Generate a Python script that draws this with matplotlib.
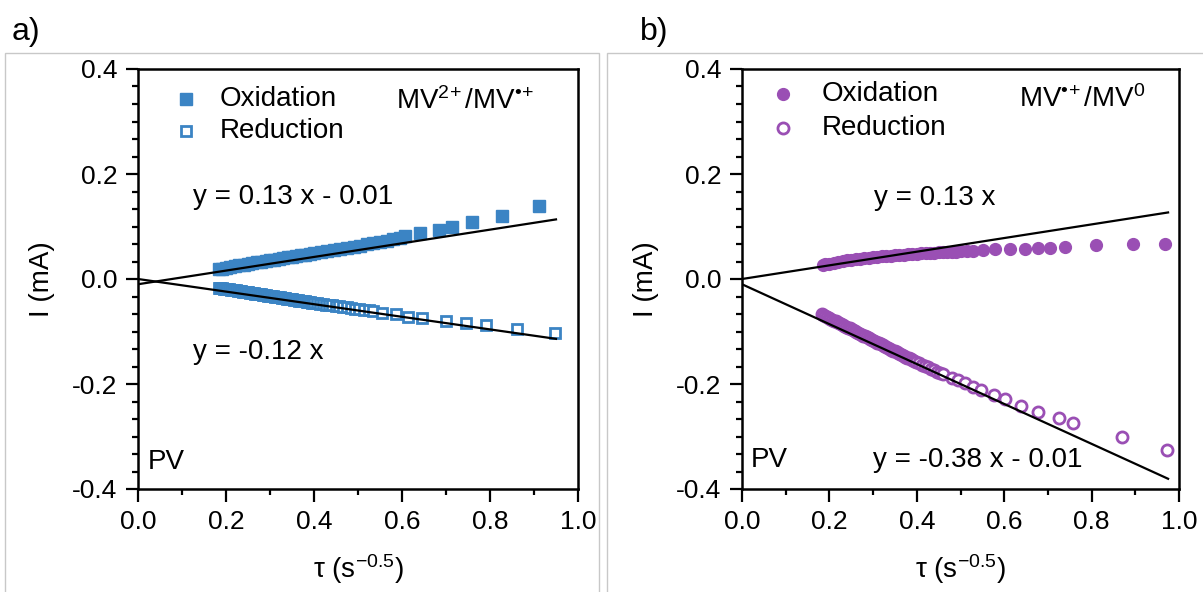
import matplotlib
matplotlib.use("Agg")
import matplotlib.pyplot as plt
from matplotlib.ticker import MultipleLocator
from matplotlib.patches import Rectangle

plt.rcParams["font.family"] = ["Liberation Sans", "DejaVu Sans"]
plt.rcParams["mathtext.fontset"] = "custom"
plt.rcParams["mathtext.rm"] = "Liberation Sans"
plt.rcParams["mathtext.it"] = "Liberation Sans:italic"
plt.rcParams["mathtext.bf"] = "Liberation Sans:bold"

# ---------------- data ----------------
# (a) MV2+/MV•+ couple
tau_a_ox = [0.183, 0.19, 0.20, 0.21, 0.22, 0.23, 0.24, 0.25, 0.26, 0.27, 0.28, 0.29,
            0.30, 0.31, 0.32, 0.33, 0.34, 0.35, 0.36, 0.37, 0.38, 0.39, 0.40, 0.415,
            0.43, 0.445, 0.46, 0.475, 0.49, 0.505, 0.52, 0.535, 0.55, 0.565, 0.58,
            0.595, 0.607, 0.641, 0.683, 0.713, 0.758, 0.827, 0.912]
i_a_ox = [0.019, 0.020, 0.0215, 0.023, 0.0245, 0.026, 0.0275, 0.029, 0.030, 0.0315,
          0.033, 0.034, 0.0355, 0.037, 0.038, 0.0395, 0.041, 0.042, 0.0435, 0.045,
          0.046, 0.0475, 0.049, 0.051, 0.053, 0.055, 0.057, 0.059, 0.061, 0.0635,
          0.066, 0.068, 0.0705, 0.073, 0.0765, 0.079, 0.082, 0.088, 0.093, 0.0997,
          0.1086, 0.120, 0.139]

tau_a_red = [0.183, 0.187, 0.191, 0.195, 0.199, 0.203, 0.207, 0.211, 0.215, 0.219,
             0.223, 0.227, 0.231, 0.235, 0.239, 0.243, 0.247, 0.251, 0.255, 0.259,
             0.263, 0.267, 0.271, 0.275, 0.279, 0.283, 0.287, 0.291, 0.295, 0.299,
             0.303, 0.307, 0.311, 0.315, 0.319, 0.323, 0.327, 0.331, 0.335, 0.339,
             0.343, 0.347, 0.351, 0.355, 0.359, 0.363, 0.367, 0.371, 0.375, 0.379,
             0.383, 0.387, 0.391, 0.395, 0.399, 0.406, 0.413, 0.420, 0.427, 0.434,
             0.441, 0.449, 0.457, 0.465, 0.474, 0.483, 0.493, 0.503, 0.513, 0.524,
             0.535, 0.555, 0.586, 0.613, 0.646, 0.701, 0.745, 0.792, 0.861, 0.948]
i_a_red = [-0.0165, -0.0171, -0.0176, -0.0181, -0.0187, -0.0192, -0.0197, -0.0203,
           -0.0208, -0.0213, -0.0219, -0.0224, -0.0229, -0.0235, -0.0240, -0.0245,
           -0.0251, -0.0256, -0.0261, -0.0267, -0.0272, -0.0277, -0.0283, -0.0288,
           -0.0293, -0.0299, -0.0304, -0.0309, -0.0315, -0.0320, -0.0325, -0.0331,
           -0.0336, -0.0341, -0.0347, -0.0352, -0.0357, -0.0363, -0.0368, -0.0373,
           -0.0379, -0.0384, -0.0389, -0.0395, -0.0400, -0.0405, -0.0411, -0.0416,
           -0.0421, -0.0427, -0.0432, -0.0437, -0.0443, -0.0448, -0.0453, -0.0461,
           -0.0469, -0.0478, -0.0486, -0.0494, -0.0502, -0.0512, -0.0521, -0.0530,
           -0.0541, -0.0551, -0.0563, -0.0575, -0.0587, -0.0599, -0.061, -0.064,
           -0.067, -0.0718, -0.075, -0.080, -0.083, -0.0876, -0.096, -0.102]

# (b) MV•+/MV0 couple
tau_b_ox = [0.186, 0.19, 0.20, 0.21, 0.22, 0.23, 0.24, 0.25, 0.26, 0.27, 0.28, 0.29,
            0.30, 0.31, 0.32, 0.33, 0.34, 0.35, 0.36, 0.37, 0.38, 0.39, 0.40, 0.41,
            0.42, 0.43, 0.44, 0.45, 0.46, 0.47, 0.48, 0.49, 0.50, 0.515, 0.529, 0.552,
            0.579, 0.613, 0.648, 0.677, 0.705, 0.738, 0.809, 0.895, 0.968]
i_b_ox = [0.027, 0.0278, 0.0295, 0.031, 0.0325, 0.034, 0.0353, 0.0365, 0.0377, 0.0388,
          0.0398, 0.0408, 0.0417, 0.0425, 0.0433, 0.044, 0.0447, 0.0454, 0.046, 0.0466,
          0.0472, 0.0477, 0.0482, 0.0487, 0.0492, 0.0496, 0.050, 0.0505, 0.051, 0.0514,
          0.0518, 0.0522, 0.0526, 0.053, 0.053, 0.0546, 0.0565, 0.0565, 0.0578, 0.0584,
          0.0597, 0.061, 0.064, 0.066, 0.066]

tau_b_red = [0.182, 0.186, 0.190, 0.194, 0.198, 0.202, 0.206, 0.210, 0.214, 0.218,
             0.222, 0.226, 0.230, 0.234, 0.238, 0.242, 0.246, 0.250, 0.254, 0.258,
             0.262, 0.266, 0.270, 0.274, 0.278, 0.282, 0.286, 0.290, 0.294, 0.298,
             0.302, 0.306, 0.310, 0.314, 0.318, 0.322, 0.326, 0.330, 0.334, 0.338,
             0.342, 0.346, 0.350, 0.354, 0.358, 0.362, 0.366, 0.370, 0.374, 0.378,
             0.382, 0.386, 0.390, 0.394, 0.398, 0.405, 0.412, 0.419, 0.426, 0.433,
             0.440, 0.447, 0.454, 0.461, 0.480, 0.495, 0.510, 0.529, 0.546, 0.576,
             0.601, 0.638, 0.678, 0.725, 0.757, 0.870, 0.973]
i_b_red = [-0.0673, -0.0690, -0.0707, -0.0724, -0.0740, -0.0757, -0.0774, -0.0791,
           -0.0808, -0.0825, -0.0841, -0.0858, -0.0875, -0.0892, -0.0909, -0.0925,
           -0.0942, -0.0959, -0.0976, -0.0993, -0.1009, -0.1026, -0.1043, -0.1060,
           -0.1077, -0.1093, -0.1110, -0.1127, -0.1144, -0.1161, -0.1177, -0.1194,
           -0.1211, -0.1228, -0.1245, -0.1261, -0.1278, -0.1295, -0.1312, -0.1329,
           -0.1345, -0.1362, -0.1379, -0.1396, -0.1413, -0.1429, -0.1446, -0.1463,
           -0.1480, -0.1497, -0.1513, -0.1530, -0.1547, -0.1564, -0.1581, -0.1607,
           -0.1633, -0.1659, -0.1685, -0.1711, -0.1737, -0.1763, -0.1790, -0.1816,
           -0.188, -0.193, -0.1975, -0.206, -0.2114, -0.220, -0.229, -0.241, -0.253,
           -0.264, -0.274, -0.301, -0.326]

# linear fits: (slope, intercept, x_end)
fit_a_ox = (0.13, -0.01, 0.95)
fit_a_red = (-0.12, 0.0, 0.95)
fit_b_ox = (0.13, 0.0, 0.975)
fit_b_red = (-0.38, -0.01, 0.975)

x_ticks = [0.0, 0.2, 0.4, 0.6, 0.8, 1.0]
y_ticks = [-0.4, -0.2, 0.0, 0.2, 0.4]

BLUE = "#3B84C4"
PURPLE = "#9A4FB4"
FS = 20
TFS = 19

W, H = 1203, 592
fig = plt.figure(figsize=(W / 100, H / 100), dpi=100)

# light panel frames
for x0, x1 in [(5, 599), (607, 1210)]:
    fig.add_artist(Rectangle((x0 / W, -0.01), (x1 - x0) / W, 1.01 - 53 / H,
                             transform=fig.transFigure, fill=False,
                             edgecolor="#c8c8c8", linewidth=1.0))

axA = fig.add_axes([138 / W, 1 - 489 / H, 440 / W, 420 / H])
axB = fig.add_axes([742 / W, 1 - 489 / H, 437 / W, 420 / H])


def style(ax):
    ax.set_xlim(0, 1.0)
    ax.set_ylim(-0.4, 0.4)
    ax.set_xticks(x_ticks)
    ax.set_yticks(y_ticks)
    ax.set_xticklabels([f"{v:.1f}" for v in x_ticks])
    ax.set_yticklabels([f"{v:.1f}" for v in y_ticks])
    ax.xaxis.set_minor_locator(MultipleLocator(0.1))
    ax.yaxis.set_minor_locator(MultipleLocator(0.2 / 6))
    ax.tick_params(which="both", direction="out", top=False, right=False,
                   labelsize=TFS, width=1.6, colors="black")
    ax.tick_params(which="major", length=9, pad=6)
    ax.tick_params(which="minor", length=4)
    for s in ax.spines.values():
        s.set_linewidth(1.8)
    ax.set_xlabel(r"τ (s$^{-0.5}$)", fontsize=FS, labelpad=13)
    ax.set_ylabel("I (mA)", fontsize=FS, labelpad=12)


def fit_line(ax, fit):
    m, b, xe = fit
    ax.plot([0, xe], [b, m * xe + b], color="black", lw=1.6, zorder=5)


# ---- panel (a) ----
axA.plot(tau_a_ox, i_a_ox, "s", ms=8, color=BLUE, mec=BLUE, zorder=3)
axA.plot(tau_a_red, i_a_red, "s", ms=7.5, mfc="white", mec=BLUE, mew=2, zorder=3)
fit_line(axA, fit_a_ox)
fit_line(axA, fit_a_red)
style(axA)

axA.plot([0.109], [0.929], "s", ms=8, color=BLUE, transform=axA.transAxes)
axA.plot([0.109], [0.852], "s", ms=7.5, mfc="white", mec=BLUE, mew=2,
         transform=axA.transAxes)
axA.text(0.186, 0.929, "Oxidation", fontsize=FS, va="center", transform=axA.transAxes)
axA.text(0.186, 0.852, "Reduction", fontsize=FS, va="center", transform=axA.transAxes)
axA.text(0.586, 0.339, r"MV$^{2\!+}$/MV$^{•\!+}$", fontsize=FS, va="center")
axA.text(0.125, 0.156, "y = 0.13 x - 0.01", fontsize=FS, va="center")
axA.text(0.125, -0.139, "y = -0.12 x", fontsize=FS, va="center")
axA.text(0.023, -0.348, "PV", fontsize=FS, va="center")

# ---- panel (b) ----
axB.plot(tau_b_ox, i_b_ox, "o", ms=8.5, color=PURPLE, mec=PURPLE, zorder=3)
axB.plot(tau_b_red, i_b_red, "o", ms=8, mfc="white", mec=PURPLE, mew=2, zorder=3)
fit_line(axB, fit_b_ox)
fit_line(axB, fit_b_red)
style(axB)

axB.plot([0.094], [0.940], "o", ms=8.5, color=PURPLE, transform=axB.transAxes)
axB.plot([0.094], [0.860], "o", ms=8, mfc="white", mec=PURPLE, mew=2,
         transform=axB.transAxes)
axB.text(0.183, 0.940, "Oxidation", fontsize=FS, va="center", transform=axB.transAxes)
axB.text(0.183, 0.860, "Reduction", fontsize=FS, va="center", transform=axB.transAxes)
axB.text(0.634, 0.343, r"MV$^{•\!+}$/MV$^{0}$", fontsize=FS, va="center")
axB.text(0.302, 0.154, "y = 0.13 x", fontsize=FS, va="center")
axB.text(0.021, -0.345, "PV", fontsize=FS, va="center")
axB.text(0.30, -0.345, "y = -0.38 x - 0.01", fontsize=FS, va="center")

fig.text(12 / W, 1 - 32 / H, "a)", fontsize=23, va="center")
fig.text(640 / W, 1 - 32 / H, "b)", fontsize=23, va="center")

fig.savefig("out.png", dpi=100)
